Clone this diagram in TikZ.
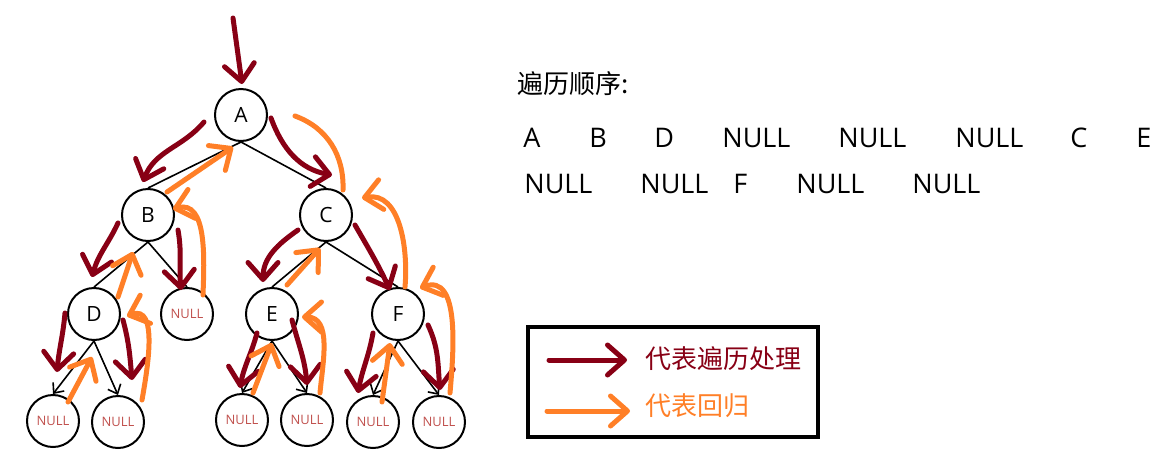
\documentclass[tikz,border=0pt]{standalone}
\usepackage{fontspec}
\setmainfont{Open Sans}
\newfontfamily\cjk{Noto Sans CJK SC}
\usepackage{xcolor}
\usepackage{tikz}
\usetikzlibrary{arrows.meta, calc, positioning}

\definecolor{visitred}{RGB}{136,0,21}
\definecolor{retorange}{RGB}{255,127,39}
\definecolor{nullred}{RGB}{192,80,77}

\begin{document}
\begin{tikzpicture}[
    x=0.5pt, y=0.5pt,
    nd/.style={draw, circle, line width=1pt, minimum size=26pt, inner sep=0pt,
               font=\fontsize{10.5}{12}\selectfont},
    nul/.style={nd, text=nullred, font=\fontsize{6.5}{8}\selectfont},
    link/.style={line width=0.8pt},
    linkarr/.style={link, -{Straight Barb[length=4pt, width=7pt]}},
    visit/.style={draw=visitred, line width=2.5pt, line cap=round,
                  -{Straight Barb[round, length=8.5pt, width=15pt]}},
    retn/.style={visit, draw=retorange},
    seq/.style={anchor=base west, inner sep=0pt, font=\fontsize{13.5}{16}\selectfont},
    cn/.style={anchor=west, inner sep=0pt, font=\cjk\fontsize{13}{16}\selectfont}
]
\useasboundingbox (0,0) rectangle (1174,-467);

\node[nd]  (A)  at (241,-115) {A};
\node[nd]  (B)  at (148,-215) {B};
\node[nd]  (C)  at (326,-215) {C};
\node[nd]  (D)  at (94,-314)  {D};
\node[nul] (NB) at (187,-314) {NULL};
\node[nd]  (E)  at (272,-314) {E};
\node[nd]  (F)  at (398,-314) {F};
\node[nul] (N1) at (53,-421)  {NULL};
\node[nul] (N2) at (118,-422) {NULL};
\node[nul] (N3) at (242,-420) {NULL};
\node[nul] (N4) at (307,-420) {NULL};
\node[nul] (N5) at (373,-422) {NULL};
\node[nul] (N6) at (439,-422) {NULL};

% tree edges
\draw[link] (A.south) -- (B.north);
\draw[link] (A.south) -- (C.north);
\draw[link] (B.south) -- (D.north);
\draw[link] (B.south) -- (NB.north);
\draw[link] (C.south) -- (E.north);
\draw[link] (C.south) -- (F.north);
\draw[linkarr] (D.south) -- (N1.north);
\draw[linkarr] (D.south) -- (N2.north);
\draw[linkarr] (E.south) -- (N3.north);
\draw[linkarr] (E.south) -- (N4.north);
\draw[linkarr] (F.south) -- (N5.north);
\draw[linkarr] (F.south) -- (N6.north);

% walk down / come back
\draw[visit] ($(A)+(-8,97)$) -- ($(A)+(1,31)$);
\draw[visit] ($(A)+(-37,-7)$) to[out=-130, in=70] ($(B)+(-5,33)$);
\draw[retn]  ($(B)+(19,23)$) -- ($(A)+(-8,-32)$);
\draw[visit] ($(A)+(30,-3)$) to[out=-70, in=170] ($(C)+(6,40)$);
\draw[retn, -] ($(C)+(17,25)$) to[out=88, in=-20] ($(A)+(54,-1)$);

\draw[visit] ($(B)+(-30,-8)$) to[out=-115, in=75] ($(D)+(-2,37)$);
\draw[retn]  ($(D)+(24,17)$) -- ($(B)+(-15,-37)$);
\draw[visit] ($(B)+(30,-15)$) to[out=-80, in=95] ($(NB)+(-6,24)$);
\draw[retn]  ($(NB)+(16,19)$) to[out=88, in=15] ($(B)+(25,6)$);

\draw[visit] ($(D)+(-29,1)$) to[out=-95, in=85] ($(N1)+(4,49)$);
\draw[retn]  ($(N1)+(15,19)$) -- ($(D)+(-2,-43)$);
\draw[visit] ($(D)+(29,-6)$) to[out=-75, in=95] ($(N2)+(14,42)$);
\draw[retn]  ($(N2)+(24,22)$) to[out=80, in=20] ($(D)+(33,-2)$);

\draw[visit] ($(C)+(-28,-15)$) to[out=-145, in=90] ($(E)+(-9,32)$);
\draw[retn]  ($(E)+(15,29)$) -- ($(C)+(-6,-33)$);
\draw[visit] ($(C)+(29,-10)$) to[out=-60, in=115] ($(F)+(-8,24)$);
\draw[retn]  ($(F)+(7,27)$) to[out=85, in=10] ($(C)+(36,17)$);

\draw[visit] ($(E)+(-15,-19)$) to[out=-105, in=80] ($(N3)+(-2,32)$);
\draw[retn]  ($(N3)+(11,27)$) -- ($(E)+(0,-29)$);
\draw[visit] ($(E)+(20,-6)$) to[out=-75, in=95] ($(N4)+(0,35)$);
\draw[retn]  ($(N4)+(13,27)$) to[out=85, in=0] ($(E)+(30,-3)$);

\draw[visit] ($(F)+(-25,-19)$) to[out=-100, in=80] ($(N5)+(-15,29)$);
\draw[retn]  ($(N5)+(9,20)$) -- ($(F)+(-8,-29)$);
\draw[visit] ($(F)+(30,-11)$) to[out=-65, in=95] ($(N6)+(1,32)$);
\draw[retn]  ($(N6)+(11,29)$) to[out=85, in=20] ($(F)+(22,26)$);

% order
\node[cn] (title) at (517,-84) {遍历顺序:};
\foreach \t/\x [count=\i] in {A/523, B/589, D/654, NULL/722, NULL/838, NULL/955, C/1070, E/1136}
    \node[seq] (ra\i) at (\x,-147) {\t};
\foreach \t/\x [count=\i] in {NULL/524, NULL/640, F/733, NULL/796, NULL/912}
    \node[seq] (rb\i) at (\x,-193) {\t};

% legend
\node[draw, line width=2pt, minimum width=145pt, minimum height=55pt, inner sep=0pt]
    (legend) at (673,-382) {};
\node[cn, text=visitred]  (lg1) at (645,-359) {代表遍历处理};
\node[cn, text=retorange] (lg2) at (645,-406) {代表回归};
\draw[visit] ($(lg1.west)+(-96,-1)$) -- ($(lg1.west)+(-18,-1)$);
\draw[retn]  ($(lg2.west)+(-98,-5)$) -- ($(lg2.west)+(-15,-5)$);

\end{tikzpicture}
\end{document}
